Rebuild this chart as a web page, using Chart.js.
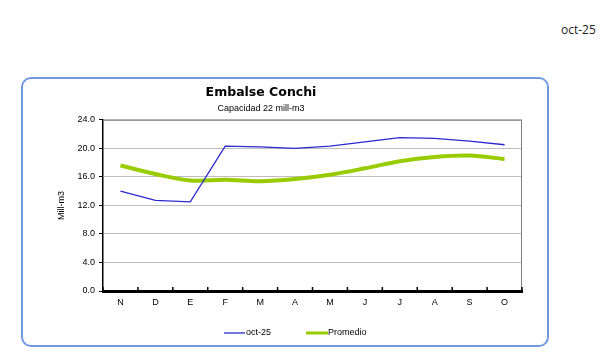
<!DOCTYPE html>
<html>
<head>
<meta charset="utf-8">
<script src="https://cdn.jsdelivr.net/npm/chart.js@4/dist/chart.umd.min.js"></script>
<style>
  html, body { margin: 0; padding: 0; background: #ffffff; }
  #wrap { position: relative; width: 603px; height: 354px; overflow: hidden; }
  #card { position: absolute; left: 21px; top: 77px; width: 524px; height: 266px;
          border: 2px solid #6f9be0; border-radius: 10px; box-sizing: content-box; }
  #stamp { position: absolute; left: 561px; top: 21px; font: 12px "Open Sans", sans-serif; color: #222; }
  canvas { position: absolute; left: 0; top: 0; }
</style>
</head>
<body>
<div id="wrap">
  <div id="card"></div>
  <div id="stamp">oct-25</div>
  <canvas id="c" width="603" height="354"></canvas>
</div>
<script>
const categories = ["N", "D", "E", "F", "M", "A", "M", "J", "J", "A", "S", "O"];
const serieActual = [14.0, 12.7, 12.5, 20.3, 20.2, 20.0, 20.3, 20.9, 21.5, 21.4, 21.0, 20.5];
const seriePromedio = [17.6, 16.4, 15.5, 15.6, 15.4, 15.7, 16.3, 17.2, 18.2, 18.8, 19.0, 18.5];
const yTicks = [0, 4, 8, 12, 16, 20, 24];
const seriesNames = ["oct-25", "Promedio"];
const chartTitle = "Embalse Conchi";
const chartSubtitle = "Capacidad 22 mill-m3";
const yTitle = "Mill-m3";

const FONT = '"Liberation Sans", Arial, sans-serif';

const framePlugin = {
  id: 'frame',
  beforeDatasetsDraw(chart) {
    const { ctx, chartArea: a } = chart;
    ctx.save();
    ctx.strokeStyle = '#808080';
    ctx.lineWidth = 1;
    ctx.beginPath();
    ctx.moveTo(a.left, a.top + 0.5);
    ctx.lineTo(a.right - 0.5, a.top + 0.5);
    ctx.lineTo(a.right - 0.5, a.bottom);
    ctx.stroke();
    ctx.restore();
  },
  afterDraw(chart) {
    const { ctx, chartArea: a, scales } = chart;
    const x = scales.x;
    ctx.save();
    ctx.strokeStyle = '#000';
    ctx.lineWidth = 1.5;
    const n = categories.length;
    const step = x.getPixelForValue(1) - x.getPixelForValue(0);
    for (let i = 0; i <= n; i++) {
      const px = i < n ? x.getPixelForValue(i) - step / 2 : x.getPixelForValue(n - 1) + step / 2;
      ctx.beginPath();
      ctx.moveTo(px, a.bottom);
      ctx.lineTo(px, a.bottom - 4);
      ctx.stroke();
    }
    const legendItems = [
      { x0: 224, x1: 245, tx: 246, w: 1.3, ds: chart.data.datasets[0] },
      { x0: 306, x1: 328, tx: 328, w: 3, ds: chart.data.datasets[1] }
    ];
    const ly = 333;
    ctx.font = '9px ' + FONT;
    ctx.textBaseline = 'middle';
    ctx.fillStyle = '#000';
    legendItems.forEach(it => {
      ctx.strokeStyle = it.ds.borderColor;
      ctx.lineWidth = it.w;
      ctx.beginPath();
      ctx.moveTo(it.x0, ly);
      ctx.lineTo(it.x1, ly);
      ctx.stroke();
      ctx.fillText(it.ds.label, it.tx, ly);
    });
    ctx.restore();
  }
};

new Chart(document.getElementById('c'), {
  type: 'line',
  data: {
    labels: categories,
    datasets: [
      { label: seriesNames[0], data: serieActual, borderColor: '#2a2ad0', borderWidth: 1.3,
        pointRadius: 0, tension: 0, order: 1 },
      { label: seriesNames[1], data: seriePromedio, borderColor: '#99cc00', borderWidth: 4,
        pointRadius: 0, tension: 0.35, order: 2 }
    ]
  },
  options: {
    responsive: false,
    animation: false,
    events: [],
    layout: { padding: { left: 0, top: 0, right: 81, bottom: 0 } },
    plugins: {
      legend: { display: false },
      tooltip: { enabled: false },
      title: {
        display: true, text: chartTitle, color: '#000',
        font: { family: '"DejaVu Sans", Verdana, sans-serif', size: 12.5, weight: 'bold' },
        padding: { top: 85, bottom: 0 }
      },
      subtitle: {
        display: true, text: chartSubtitle, color: '#000',
        font: { family: FONT, size: 9 },
        padding: { top: 3, bottom: 6 }
      }
    },
    scales: {
      x: {
        offset: true,
        afterFit(s) { s.height = 63; },
        grid: { display: true, drawOnChartArea: false, drawTicks: false, offset: true },
        border: { display: true, color: '#000', width: 3 },
        ticks: { color: '#000', font: { family: FONT, size: 9 }, padding: 6, maxRotation: 0, autoSkip: false }
      },
      y: {
        min: 0, max: 24,
        afterFit(s) { s.width = 103; },
        afterBuildTicks(s) { s.ticks = yTicks.map(v => ({ value: v })); },
        grid: { color: '#bdbdbd', lineWidth: 1, drawTicks: true, tickLength: 4, tickColor: '#000' },
        border: { display: true, color: '#000', width: 1.5 },
        ticks: { color: '#000', font: { family: FONT, size: 9 }, padding: 4,
                 callback: v => Number(v).toFixed(1) },
        title: { display: true, text: yTitle, color: '#000', font: { family: FONT, size: 9 },
                 padding: { top: 56, bottom: 0 } }
      }
    }
  },
  plugins: [framePlugin]
});
</script>
</body>
</html>
